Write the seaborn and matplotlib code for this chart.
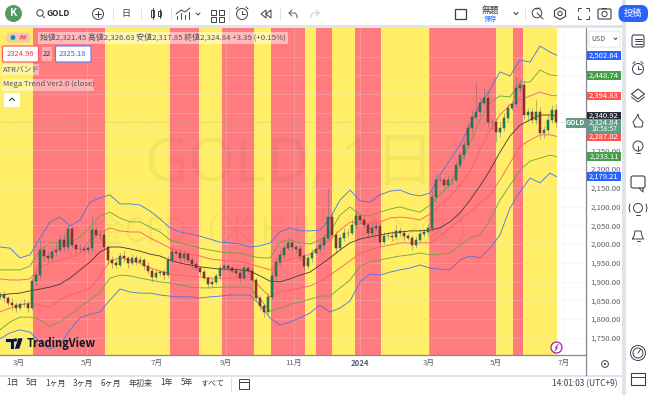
import numpy as np
import matplotlib
matplotlib.use("Agg")
import matplotlib.pyplot as plt
from matplotlib.patches import Rectangle, FancyBboxPatch, Circle, Polygon
import seaborn as sns

sns.set_theme(style="white")
plt.rcParams['font.family'] = ['Noto Sans CJK JP', 'DejaVu Sans']

# ---------- data ----------
zone_edges = [0, 33, 105, 170, 199, 222, 254, 271, 305, 316, 332, 355, 381, 429, 496, 513, 523, 557]
zone_kinds = ['y', 'r', 'y', 'r', 'y', 'r', 'y', 'r', 'y', 'r', 'y', 'r', 'y', 'r', 'y', 'r', 'y']

month_pos = [19, 87, 157, 226, 294, 360, 429, 496, 564]
month_labels = ['3月', '5月', '7月', '9月', '11月', '2024', '3月', '5月', '7月']
price_ticks = [1750, 1800, 1850, 1900, 1950, 2000, 2050, 2100, 2150, 2200, 2250, 2300, 2350, 2400, 2450, 2500]
hidden_tick_labels = [2300, 2350, 2400, 2450, 2500]

closes = [1864, 1856, 1843, 1837, 1829, 1840, 1840, 1829, 1901, 1917, 1984, 1968, 1963, 1979, 1984, 2011, 1992, 2040,
          1997, 1987, 1987, 1984, 1989, 2037, 2024, 2024, 1992, 1957, 1949, 1944, 1968, 1963, 1949, 1963, 1952,
          1957, 1941, 1928, 1912, 1923, 1925, 1917, 1957, 1979, 1976, 1963, 1973, 1957, 1947, 1936, 1925, 1909,
          1893, 1899, 1915, 1936, 1941, 1936, 1928, 1923, 1909, 1936, 1928, 1904, 1856, 1835, 1819, 1859, 1915,
          1952, 1971, 1989, 2003, 1992, 1987, 1968, 1941, 1963, 1976, 1987, 1997, 2016, 2072, 2024, 1989, 2016,
          2029, 2029, 2051, 2075, 2064, 2051, 2029, 2043, 2048, 2005, 2021, 2021, 2019, 2035, 2029, 2021, 2016,
          1997, 2011, 2027, 2032, 2043,
          2125, 2171, 2171, 2157, 2171, 2171, 2211, 2237, 2264, 2309, 2339, 2352, 2376, 2389, 2325, 2325, 2299,
          2309, 2336, 2363, 2373, 2416, 2424, 2344, 2352, 2331, 2352, 2296, 2304, 2331, 2357, 2325]
wick_up = [8, 10, 6, 12, 8, 6, 14, 8, 12, 16, 27, 10, 14, 8, 22, 12, 18, 10, 8, 6, 14, 10, 12, 40, 10, 14, 8, 6, 12, 10,
           8, 14, 6, 10, 8, 10, 6, 12, 8, 10, 6, 8, 10, 14, 8, 10, 12, 6, 8, 10, 6, 8, 6, 10, 8, 12, 10, 8, 6, 10,
           8, 12, 6, 8, 6, 8, 6, 10, 12, 10, 14, 10, 12, 8, 6, 10, 8, 10, 12, 10, 14, 12, 77, 14, 10, 12, 14, 10, 16,
           12, 8, 10, 6, 14, 10, 8, 12, 10, 14, 16, 10, 8, 6, 8, 10, 12, 8, 14,
           20, 14, 10, 8, 12, 10, 14, 12, 16, 14, 18, 80, 14, 27, 18, 12, 10, 16, 14, 10, 12, 29, 16, 14, 12, 10, 32, 14,
           10, 12, 14, 16]
wick_down = [6, 10, 8, 12, 10, 6, 8, 10, 6, 14, 10, 14, 12, 8, 10, 6, 12, 10, 8, 12, 10, 6, 8, 10, 6, 12, 8, 10, 12, 8,
             6, 10, 12, 6, 8, 6, 10, 8, 12, 6, 8, 10, 6, 8, 6, 10, 8, 6, 10, 6, 8, 6, 10, 8, 6, 10, 6, 8, 6, 8,
             10, 6, 8, 6, 8, 10, 14, 6, 8, 12, 8, 10, 6, 8, 12, 10, 14, 8, 10, 6, 8, 10, 6, 8, 12, 6, 8, 10, 6,
             8, 10, 8, 12, 6, 8, 10, 6, 8, 10, 6, 8, 12, 6, 14, 8, 6, 8, 10,
             8, 12, 6, 10, 8, 10, 6, 8, 10, 6, 12, 8, 10, 6, 14, 18, 26, 14, 8, 10, 6, 8, 12, 10, 14, 8, 10, 16, 12, 10,
             8, 14]

atr_blue_up = [1992, 1989, 1963, 1971, 2016, 2059, 2072, 2048, 2064, 2112, 2123, 2131, 2107, 2107, 2104, 2088, 2067, 2043, 2032,
               2027, 2021, 2013, 2005, 2003, 2000, 1992, 1995, 2003, 2032, 2043, 2035, 2035, 2037, 2069, 2117, 2144, 2115,
               2112, 2131, 2141, 2144, 2133, 2128, 2136, 2184, 2224, 2264, 2317, 2371, 2411, 2459, 2448, 2491, 2485, 2528,
               2512, 2503]
atr_green_up = [1931, 1931, 1931, 1941, 1984, 2003, 2003, 2003, 2019, 2045, 2075, 2085, 2069, 2059, 2059, 2045, 2032, 2011, 2003,
                1997, 1989, 1984, 1979, 1976, 1976, 1968, 1963, 1963, 2005, 2011, 2003, 2000, 2011, 2032, 2077, 2099, 2077,
                2075, 2085, 2093, 2099, 2091, 2085, 2104, 2131, 2157, 2211, 2269, 2331, 2376, 2395, 2392, 2432, 2432, 2464,
                2451, 2449]
atr_red_up = [1907, 1904, 1904, 1907, 1939, 1949, 1957, 1963, 1976, 2011, 2029, 2043, 2035, 2032, 2032, 2016, 2003, 1989, 1981,
              1973, 1968, 1960, 1957, 1955, 1952, 1947, 1939, 1931, 1949, 1960, 1965, 1973, 1992, 2011, 2037, 2059, 2056,
              2056, 2059, 2069, 2072, 2069, 2064, 2080, 2104, 2125, 2157, 2192, 2251, 2304, 2344, 2371, 2384, 2395, 2405,
              2397, 2395]
trend_ma = [1864, 1867, 1869, 1875, 1880, 1885, 1893, 1909, 1931, 1952, 1979, 1992, 1992, 1987, 1981, 1973, 1968, 1957, 1949,
            1944, 1939, 1936, 1933, 1933, 1931, 1928, 1915, 1901, 1899, 1907, 1917, 1925, 1944, 1963, 1984, 2003, 2013,
            2019, 2024, 2029, 2032, 2035, 2035, 2037, 2043, 2059, 2083, 2117, 2155, 2197, 2245, 2288, 2317, 2331, 2344,
            2344, 2341]
atr_red_lo = [1819, 1829, 1837, 1843, 1837, 1832, 1851, 1864, 1872, 1883, 1915, 1955, 1963, 1957, 1949, 1936, 1928, 1920, 1917,
              1915, 1912, 1909, 1909, 1909, 1909, 1912, 1885, 1859, 1872, 1877, 1883, 1888, 1901, 1917, 1936, 1955, 1976,
              1984, 1992, 1997, 2003, 2003, 2003, 2003, 2021, 2043, 2064, 2085, 2109, 2131, 2171, 2216, 2261, 2277, 2291,
              2291, 2287]
atr_green_lo = [1771, 1792, 1805, 1805, 1797, 1781, 1792, 1811, 1832, 1851, 1872, 1909, 1917, 1915, 1909, 1904, 1899, 1896, 1891,
                1885, 1883, 1883, 1885, 1885, 1885, 1885, 1853, 1821, 1829, 1840, 1845, 1853, 1861, 1861, 1883, 1904, 1941,
                1952, 1957, 1963, 1968, 1971, 1976, 1971, 1973, 1976, 1997, 2016, 2024, 2064, 2117, 2157, 2197, 2221, 2229,
                2237, 2233]
atr_blue_lo = [1747, 1763, 1771, 1765, 1739, 1720, 1731, 1771, 1803, 1813, 1819, 1851, 1880, 1872, 1869, 1869, 1864, 1861, 1859,
               1859, 1856, 1859, 1861, 1864, 1864, 1864, 1837, 1803, 1784, 1792, 1803, 1816, 1837, 1819, 1829, 1848, 1899,
               1920, 1917, 1925, 1931, 1936, 1944, 1936, 1933, 1931, 1957, 1968, 1963, 1989, 2024, 2096, 2139, 2176, 2163,
               2189, 2179]

tags = [('2,502.64', 2502.64, '#2962ff'), ('2,448.74', 2448.74, '#43a047'), ('2,394.83', 2394.83, '#ff5252'),
        ('2,340.92', 2340.92, '#2a2e39'), ('2,287.02', 2287.02, '#ff5252'), ('2,233.11', 2233.11, '#43a047'),
        ('2,179.21', 2179.21, '#2962ff')]
last_price = 2324.84

# ---------- layout ----------
W, H = 650, 395
fig = plt.figure(figsize=(W / 100, H / 100), dpi=100, facecolor='white')
ax = fig.add_axes([0, (H - 355) / H, 586 / W, 328 / H], facecolor='white')
ax.set_xlim(0, 586)
ax.set_ylim(1704.0, 2578.7)

RED, YEL = '#ff7b7e', '#ffee66'
for i, k in enumerate(zone_kinds):
    ax.axvspan(zone_edges[i], zone_edges[i + 1], color=RED if k == 'r' else YEL, lw=0, zorder=1)
ax.set_xticks(month_pos, month_labels)
ax.set_yticks(price_ticks, ['' if p in hidden_tick_labels else f'{p:,.2f}' for p in price_ticks])
ax.yaxis.tick_right()
ax.tick_params(axis='both', length=0, labelsize=5.6, labelcolor='#5d606b', pad=3)
for lab in ax.get_xticklabels():
    if lab.get_text() == '2024':
        lab.set_fontweight('bold')
ax.grid(True, color='#e2e5ec', lw=0.5, alpha=0.35, zorder=2)
ax.set_axisbelow(False)
for s in ['top', 'left']:
    ax.spines[s].set_visible(False)
for s in ['right', 'bottom']:
    ax.spines[s].set_color('#858892')
    ax.spines[s].set_linewidth(0.9)

# watermark
ax.text(290, 2212, 'GOLD, 1日', fontsize=43, color='#3a3a3a', alpha=0.05, ha='center', va='center', zorder=2.5, family=['Open Sans', 'Noto Sans CJK JP'])
ax.text(290, 2032, '金CFD（米ドル／オンス）', fontsize=24, color='#3a3a3a', alpha=0.05, ha='center', va='center', zorder=2.5)

xc = np.arange(len(closes)) * 4.0
c = np.array(closes, float)
o = np.r_[1860.0, c[:-1]]
top = np.maximum(o, c)
bot = np.minimum(o, c)
up = c >= o
ax.vlines(xc, bot - np.array(wick_down), top + np.array(wick_up), color='#6a6a6a', alpha=0.55, lw=0.6, zorder=3)

xb = np.r_[np.arange(0, 551, 10), 557]
for vals, col, lw in [(atr_blue_up, '#4a78e0', 0.62), (atr_green_up, '#6aa543', 0.6), (atr_red_up, '#fa5f5f', 0.6),
                      (trend_ma, '#3f3a38', 0.6), (atr_red_lo, '#fa5f5f', 0.6), (atr_green_lo, '#6aa543', 0.6),
                      (atr_blue_lo, '#4a78e0', 0.62)]:
    sns.lineplot(x=xb, y=vals, color=col, lw=lw, ax=ax, zorder=4, legend=False)

ax.bar(xc[up], (top - bot)[up], bottom=bot[up], width=2.1, color='#1f8a5f', edgecolor='#2a4a40', lw=0.35, zorder=5)
ax.bar(xc[~up], (top - bot)[~up], bottom=bot[~up], width=2.1, color='#9c3030', edgecolor='#4f2c2c', lw=0.35, zorder=5)
ax.axhline(last_price, color='#8aa99b', lw=0.5, alpha=0.7, ls=(0, (1.5, 2)), zorder=3.5)
ax.set_xlabel('')
ax.set_ylabel('')

# ---------- chrome, pixel coordinates ----------
ch = fig.add_axes([0, 0, 1, 1], facecolor='none', zorder=10)
ch.set_xlim(0, W)
ch.set_ylim(H, 0)
ch.axis('off')
INK = '#3c3f4a'
SZ = 5.8


def rect(x0, y0, x1, y1, fc, ec='none', lw=0, alpha=1, z=1):
    ch.add_patch(Rectangle((x0, y0), x1 - x0, y1 - y0, fc=fc, ec=ec, lw=lw, alpha=alpha, zorder=z))


def pill(x0, y0, x1, y1, fc, ec='none', lw=0, r=2, alpha=1, z=2):
    ch.add_patch(FancyBboxPatch((x0 + r, y0 + r), x1 - x0 - 2 * r, y1 - y0 - 2 * r, boxstyle=f'round,pad={r}',
                                fc=fc, ec=ec, lw=lw, alpha=alpha, zorder=z))


def line(xs, ys, color=INK, lw=0.7, z=3):
    ch.plot(xs, ys, color=color, lw=lw, zorder=z, solid_capstyle='round')


def circ(x, y, r, fc='none', ec=INK, lw=0.7, z=3):
    ch.add_patch(Circle((x, y), r, fc=fc, ec=ec, lw=lw, zorder=z))


def txt(x, y, s, size=SZ, color=INK, ha='left', weight='normal', z=4):
    ch.text(x, y, s, fontsize=size, color=color, ha=ha, va='center', fontweight=weight, zorder=z)


# frames
rect(0, 0, W, 25, 'white')
rect(0, 25, 622, 27.5, '#e0e3eb')
rect(622, 0, 625.5, H, '#e0e3eb')
rect(625.5, 0, W, H, 'white')
line([0, 622], [375.5, 375.5], '#e0e3eb', 1.4)
line([586, 586], [355, 375], '#858892', 0.9)

# top toolbar
circ(13.5, 13.5, 8.5, fc='#559a5d', ec='none')
txt(13.5, 13.2, 'K', 7.5, 'white', ha='center', weight='bold')
circ(40, 13, 3.2)
line([42.3, 44.5], [15.4, 17.6])
txt(46.5, 13.5, 'GOLD', 6, '#2a2e39', weight='bold')
circ(98, 14, 5.5)
line([95, 101], [14, 14])
line([98, 98], [11, 17])
line([112.5, 112.5], [8, 20], '#e0e3eb')
txt(126, 13.5, '日', 6.5, ha='center')
line([140.5, 140.5], [8, 20], '#e0e3eb')
rect(151, 10, 154, 17, 'none', INK, 0.7)
line([152.5, 152.5], [8, 19])
rect(158, 11, 161, 16, 'none', INK, 0.7)
line([159.5, 159.5], [9, 18])
line([170.5, 170.5], [8, 20], '#e0e3eb')
line([176, 181, 185, 190], [14, 10, 12, 8])
for bx, bh in zip([177, 181, 185, 189], [3, 6, 4, 7]):
    line([bx, bx], [19, 19 - bh])
line([196, 198, 200], [13, 15, 13])
for bx in [211, 219]:
    for by in [10, 17]:
        rect(bx, by, bx + 5, by + 5, 'none', INK, 0.7)
line([228.5, 228.5], [8, 20], '#e0e3eb')
circ(242, 14, 5.5)
line([242, 242, 245], [11, 14, 14])
line([236, 238], [9, 7])
line([248, 246], [9, 7])
ch.add_patch(Polygon([[266, 10], [261, 14], [266, 18]], fc='none', ec=INK, lw=0.7, zorder=3))
ch.add_patch(Polygon([[271, 10], [266, 14], [271, 18]], fc='none', ec=INK, lw=0.7, zorder=3))
line([279.5, 279.5], [8, 20], '#e0e3eb')
line([292, 289, 292], [10, 13, 16], '#5a5d68')
line([289, 295, 297, 297], [13, 13, 15, 18], '#5a5d68')
line([316, 319, 316], [10, 13, 16], '#c9ccd4')
line([319, 313, 311, 311], [13, 13, 15, 18], '#c9ccd4')
rect(455, 9, 466, 19, 'none', INK, 0.9)
txt(490.5, 10, '無題', 6.3, ha='center')
txt(490.5, 19.5, '保存', 4.8, '#2962ff', ha='center')
line([514, 516, 518], [12.5, 14.5, 12.5], INK, 0.8)
line([524.5, 524.5], [8, 20], '#e0e3eb')
circ(537, 13, 4.8)
line([537, 543], [13, 19])
line([536, 540], [9, 8])
ch.add_patch(Polygon([[560, 7.5], [565.5, 10.5], [565.5, 16.5], [560, 19.5], [554.5, 16.5], [554.5, 10.5]], fc='none', ec=INK, lw=0.8, zorder=3))
circ(560, 13.5, 2.2)
for xs, ys in [([578, 578, 581], [11, 8, 8]), ([586, 589, 589], [8, 8, 11]), ([578, 578, 581], [16, 19, 19]), ([586, 589, 589], [19, 19, 16])]:
    line(xs, ys)
pill(598, 9, 611, 19, 'none', INK, 0.8, r=1)
circ(604.5, 14, 2.6)
rect(602, 7.5, 607, 9, INK)
pill(618.5, 5, 648, 22, '#2962ff', r=7)
txt(633, 13.5, '投稿', 6.6, 'white', ha='center')

# legend in the chart
pill(6.5, 32.5, 30.5, 42.5, '#f2c4c4', r=4, alpha=0.9)
circ(13, 37.5, 2.4, fc='#089981', ec='none')
line([20, 22, 24, 26], [37, 35.5, 37, 35.5], '#f23645', 0.7)
line([20, 22, 24, 26], [39, 37.5, 39, 37.5], '#f23645', 0.7)
rect(37.5, 31.5, 287.5, 43.5, 'white', alpha=0.48)
txt(40, 37.5, '始値2,321.45 高値2,326.63 安値2,317.85 終値2,324.84 +3.39 (+0.15%)', 5.65, '#50535e')
pill(2.5, 46, 38.5, 62, 'white', '#f7525f', 0.8, r=1.5)
txt(20.5, 54, '2324.96', 5.5, '#f23645', ha='center')
rect(42, 47, 52, 61, 'white', alpha=0.4)
txt(47, 54, '22', 5.3, '#2a2e39', ha='center')
pill(55.5, 46, 91, 62, 'white', '#5b7df5', 0.8, r=1.5)
txt(73, 54, '2325.18', 5.5, '#2962ff', ha='center')
rect(2, 63.5, 39, 75, 'white', alpha=0.42)
txt(3, 69.5, 'ATRバンド', 5.5, '#50535e')
rect(2, 78.5, 94, 90.5, 'white', alpha=0.42)
txt(3, 84.5, 'Mega Trend Ver2.0 (close)', 5.5, '#50535e')
pill(4, 93, 20, 107, 'white', r=1.5)
line([9.5, 12, 14.5], [100.5, 98, 100.5], INK, 0.8)

# logo
ch.add_patch(Polygon([[5, 338], [14, 338], [14, 349], [9.5, 349], [9.5, 342], [5, 342]], fc='#131722', ec='white', lw=0.5, zorder=4))
circ(15.5, 340, 1.7, fc='#131722', ec='none', z=4)
ch.add_patch(Polygon([[18, 338], [23, 338], [19.5, 349], [14.5, 349]], fc='#131722', ec='white', lw=0.3, zorder=4))
txt(27, 343.5, 'TradingView', 8, '#131722', weight='bold')

# lightning marker
circ(556.5, 347.5, 5.5, fc='white', ec='#9c27b0', lw=0.9)
line([558, 555.5, 557.5, 555], [344.5, 347.8, 347.8, 350.8], '#9c27b0', 0.7)

# price tags
pill(589, 31, 620, 47, 'white', '#e0e3eb', 0.7, r=1)
txt(591.5, 39, 'USD', 5, '#50535e')
line([614, 615.5, 617], [38, 39.5, 38], INK, 0.7)
for lbl, p, col in tags:
    yy = 206.5 - (p - 2100) * 0.375
    rect(587, yy - 4.3, 621, yy + 4.3, col, z=5)
    txt(604, yy, lbl, 5.5, 'white', ha='center', z=6)
rect(587, 119, 621, 133, '#5e9e84', z=5)
txt(604, 123, '2,324.84', 5.5, 'white', ha='center', z=6)
txt(604, 129.3, '16:58:57', 4.8, 'white', ha='center', z=6)
rect(566, 118, 585.5, 127.5, '#5e9e84', z=5)
txt(575.7, 122.8, 'GOLD', 5, 'white', ha='center', weight='bold', z=6)

# settings + bottom bar
circ(605, 364, 3.4)
circ(605, 364, 1, fc=INK, ec='none')
for xp, s in zip([13, 32, 56, 83, 111, 141, 167, 187, 212], ['1日', '5日', '1ヶ月', '3ヶ月', '6ヶ月', '年初来', '1年', '5年', 'すべて']):
    txt(xp, 383, s, 5.8, ha='center')
line([230.5, 230.5], [377, 391], '#d8dbe3')
rect(239, 379, 249, 389, 'none', INK, 0.7)
line([239, 249], [382, 382])
txt(617, 383.5, '14:01:03 (UTC+9)', 6, ha='right')

# side bar
SX = 638
pill(SX - 6, 35, SX + 6, 47, 'none', INK, 0.8, r=2)
for yy in [38.5, 41, 43.5]:
    line([SX - 3.5, SX + 3.5], [yy, yy])
circ(SX, 69, 5.5)
line([SX, SX, SX + 3], [66, 69, 69])
line([SX - 5, SX - 3], [63.5, 61.5])
line([SX + 5, SX + 3], [63.5, 61.5])
ch.add_patch(Polygon([[SX, 89], [SX + 6.5, 94], [SX, 99], [SX - 6.5, 94]], fc='none', ec=INK, lw=0.8, zorder=3))
line([SX - 6.5, SX, SX + 6.5], [97, 102, 97])
line([SX - 3, SX - 5, SX - 2, SX, SX + 1, SX + 5, SX + 4, SX - 3], [127, 122, 118, 114, 118, 122, 127, 127])
circ(SX, 146, 5)
line([SX - 2, SX + 2], [153, 153])
line([SX, SX], [146, 151])
pill(SX - 7, 176, SX + 7, 188, 'none', INK, 0.8, r=2)
line([SX + 1, SX + 5, SX + 5], [188, 192, 188])
circ(SX, 208, 4.5)
line([SX - 2, SX + 2], [215, 215])
line([SX - 8, SX - 9, SX - 8], [204, 208, 212])
line([SX + 8, SX + 9, SX + 8], [204, 208, 212])
line([SX - 5.5, SX - 4, SX - 3, SX + 3, SX + 4, SX + 5.5, SX - 5.5], [239, 236, 231, 231, 236, 239, 239])
line([SX - 1.5, SX + 1.5], [241, 241])
circ(SX, 353, 7.5)
circ(SX, 353, 5)
line([SX, SX + 2.5], [353, 349.5])
rect(SX - 7, 373, SX + 7, 385, 'none', INK, 0.8)
line([SX - 7, SX + 7], [376.5, 376.5])

fig.savefig('out.png', dpi=100)
